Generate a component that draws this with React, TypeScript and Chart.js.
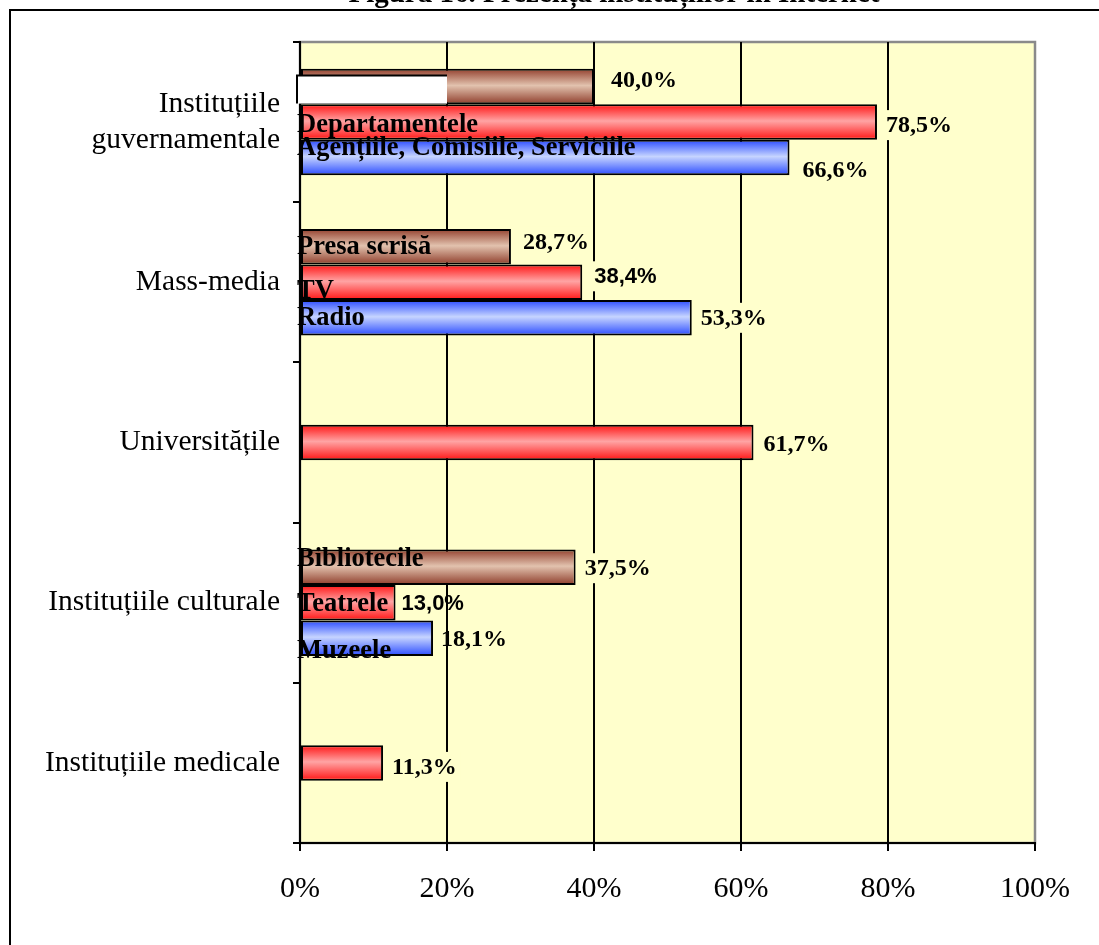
import React, { useEffect, useRef } from "react";
import { Chart, registerables } from "chart.js";

Chart.register(...registerables);

// ---------- data ----------
const titleText = "Figura 16. Prezența instituțiilor în Internet";
const categories: (string | string[])[] = [
  ["Instituțiile", "guvernamentale"],
  "Mass-media",
  "Universitățile",
  "Instituțiile culturale",
  "Instituțiile medicale",
];
const brownValues: (number | null)[] = [40.0, 28.7, null, 37.5, null];
const redValues: (number | null)[] = [78.5, 38.4, 61.7, 13.0, 11.3];
const blueValues: (number | null)[] = [66.6, 53.3, null, 18.1, null];
const brownNames = ["", "Presa scrisă", "", "Bibliotecile", ""];
const redNames = ["Departamentele", "TV", "", "Teatrele", ""];
const blueNames = ["Agențiile, Comisiile, Serviciile", "Radio", "", "Muzeele", ""];
const xTickValues = [0, 20, 40, 60, 80, 100];

// ---------- style ----------
const SERIF = '"Liberation Serif", "Times New Roman", serif';
const SANS = '"Liberation Sans", Arial, sans-serif';
const PLOT_BG = "#FFFFCC";
const CAT_PCT = 0.665;
const GRADIENTS = [
  ["#93402E", "#E2C2AE", "#8E3C2A"],
  ["#FF1414", "#FFA4A4", "#FF1414"],
  ["#2A4BFF", "#C6D4FF", "#2A4BFF"],
];
// value-label offsets [dx from bar end, dy from bar centre, sans?, background?]
const VALUE_OFFSETS: (null | [number, number, boolean, boolean])[][] = [
  [[17, -7, false, true], [12, -5, false, true], null, [9, 1, false, true], null],
  [[9, 3, false, true], [12, -6, true, true], [10, 1, false, true], [6, 0, true, false], [9, 4, false, true]],
  [[13, 12, false, true], [9, 0, false, true], null, [8, 1, false, false], null],
];
// in-bar name offsets (dy from bar centre)
const NAME_DY = [
  [0, -1, 0, -9, 0],
  [2, 8, 0, 0, 0],
  [-10, -1, 0, 12, 0],
];

const seriesValues = [brownValues, redValues, blueValues];
const seriesNames = [brownNames, redNames, blueNames];

const fmt = (v: number) => v.toFixed(1).replace(".", ",") + "%";

const makeBg = (ds: number) => (ctx: any) => {
  const c = GRADIENTS[ds];
  const chart = ctx.chart;
  const y = chart.scales && chart.scales.y;
  if (ctx.type !== "data" || !y || !chart.chartArea) return c[1];
  const center = y.getPixelForValue(ctx.dataIndex);
  const band = Math.abs(y.getPixelForValue(1) - y.getPixelForValue(0));
  const th = (band * CAT_PCT) / 3;
  const top = center + (ds - 1.5) * th;
  if (!isFinite(top)) return c[1];
  const g = chart.ctx.createLinearGradient(0, top, 0, top + th);
  g.addColorStop(0, c[0]);
  g.addColorStop(0.47, c[1]);
  g.addColorStop(1, c[2]);
  return g;
};

const backgroundPlugin = {
  id: "bgFrame",
  beforeDraw(chart: any) {
    const { ctx, chartArea, width, height } = chart;
    ctx.save();
    ctx.fillStyle = "#FFFFFF";
    ctx.fillRect(0, 0, width, height);
    // outer frame
    ctx.strokeStyle = "#000";
    ctx.lineWidth = 2;
    ctx.strokeRect(10, 10, width + 20, height + 20);
    // title (clipped at top)
    ctx.fillStyle = "#000";
    ctx.font = `bold 29px ${SERIF}`;
    ctx.textAlign = "center";
    ctx.textBaseline = "alphabetic";
    ctx.fillText(titleText, 614, 2);
    // plot area
    ctx.fillStyle = PLOT_BG;
    ctx.fillRect(chartArea.left, chartArea.top, chartArea.right - chartArea.left, chartArea.bottom - chartArea.top);
    ctx.strokeStyle = "#8A8A8A";
    ctx.lineWidth = 2.5;
    ctx.strokeRect(chartArea.left, chartArea.top, chartArea.right - chartArea.left, chartArea.bottom - chartArea.top);
    ctx.restore();
  },
};

const labelsPlugin = {
  id: "barLabels",
  afterDatasetsDraw(chart: any) {
    const { ctx, chartArea } = chart;
    ctx.save();
    // blank white label box on the first brown bar
    const firstBrown = chart.getDatasetMeta(0).data[0];
    if (firstBrown) {
      ctx.fillStyle = "#FFFFFF";
      ctx.fillRect(chartArea.left - 3, firstBrown.y - 11, 150, 28);
      ctx.strokeStyle = "#000";
      ctx.lineWidth = 2;
      ctx.beginPath();
      ctx.moveTo(chartArea.left - 3, firstBrown.y + 17);
      ctx.lineTo(chartArea.left - 3, firstBrown.y - 11);
      ctx.lineTo(chartArea.left + 147, firstBrown.y - 11);
      ctx.stroke();
    }
    ctx.textBaseline = "middle";
    ctx.textAlign = "left";
    for (let ds = 0; ds < 3; ds++) {
      const meta = chart.getDatasetMeta(ds);
      seriesValues[ds].forEach((v, i) => {
        const el = meta.data[i];
        if (!el || v === null) return;
        const off = VALUE_OFFSETS[ds][i];
        if (off) {
          const [dx, dy, sans, bg] = off;
          const txt = fmt(v);
          ctx.font = sans ? `bold 22px ${SANS}` : `bold 24px ${SERIF}`;
          const w = ctx.measureText(txt).width;
          const x = el.x + dx;
          const y = el.y + dy;
          if (bg) {
            ctx.fillStyle = PLOT_BG;
            ctx.fillRect(x - 4, y - 15, w + 8, 30);
          }
          ctx.fillStyle = "#000";
          ctx.fillText(txt, x, y + 1);
        }
      });
    }
    // names inside bars
    ctx.font = `bold 26.5px ${SERIF}`;
    ctx.fillStyle = "#000";
    for (let ds = 0; ds < 3; ds++) {
      const meta = chart.getDatasetMeta(ds);
      seriesNames[ds].forEach((name, i) => {
        const el = meta.data[i];
        if (!name || !el || seriesValues[ds][i] === null) return;
        ctx.fillText(name, chartArea.left - 3, el.y + NAME_DY[ds][i] + 1);
      });
    }
    ctx.restore();
  },
};

export default function App() {
  const ref = useRef<HTMLCanvasElement | null>(null);
  useEffect(() => {
    if (!ref.current) return;
    const chart = new Chart(ref.current, {
      type: "bar",
      data: {
        labels: categories as any,
        datasets: seriesValues.map((vals, ds) => ({
          label: ["brown", "red", "blue"][ds],
          data: vals as any,
          backgroundColor: makeBg(ds) as any,
          borderColor: "#000",
          borderWidth: 2,
          borderSkipped: false,
          categoryPercentage: CAT_PCT,
          barPercentage: 1,
        })),
      },
      options: {
        indexAxis: "y",
        responsive: false,
        animation: false,
        devicePixelRatio: 1,
        layout: { padding: { left: 0, right: 64, top: 42, bottom: 0 } },
        plugins: {
          legend: { display: false },
          tooltip: { enabled: false },
          title: { display: false },
        },
        scales: {
          x: {
            type: "linear",
            min: 0,
            max: 100,
            afterFit: (s: any) => {
              s.height = 102;
            },
            afterBuildTicks: (s: any) => {
              s.ticks = xTickValues.map((v) => ({ value: v }));
            },
            ticks: {
              autoSkip: false,
              maxRotation: 0,
              padding: 20,
              color: "#000",
              font: { family: SERIF, size: 30 },
              callback: (v: any) => `${v}%`,
            },
            grid: {
              color: (c: any) => (c.tick && c.tick.value === 100 ? "rgba(0,0,0,0)" : "#000"),
              tickColor: "#000",
              lineWidth: 2,
              tickLength: 8,
              drawTicks: true,
            },
            border: { display: true, color: "#000", width: 2 },
          },
          y: {
            type: "category",
            offset: true,
            afterFit: (s: any) => {
              s.width = 300;
            },
            ticks: {
              autoSkip: false,
              padding: 13,
              color: "#000",
              font: { family: SERIF, size: 29.5, lineHeight: 1.24 },
            },
            grid: {
              offset: true,
              drawOnChartArea: false,
              drawTicks: true,
              tickLength: 7,
              color: "#000",
              lineWidth: 2,
            },
            border: { display: true, color: "#000", width: 2 },
          },
        },
      },
      plugins: [backgroundPlugin, labelsPlugin],
    } as any);
    return () => chart.destroy();
  }, []);
  return (
    <div style={{ position: "fixed", left: 0, top: 0, width: 1099, height: 945, background: "#fff" }}>
      <canvas ref={ref} width={1099} height={945} style={{ display: "block", width: 1099, height: 945 }} />
    </div>
  );
}
